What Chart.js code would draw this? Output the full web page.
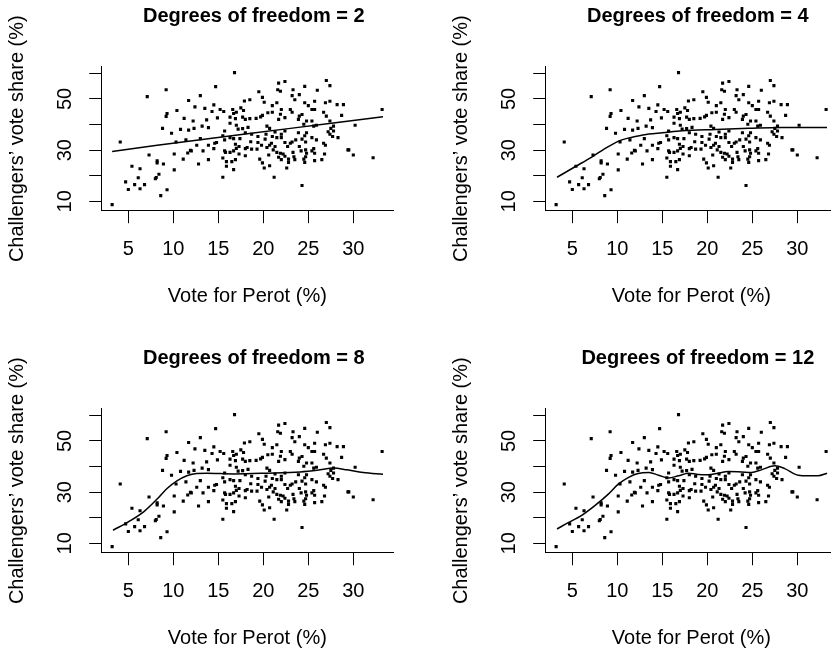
<!DOCTYPE html>
<html><head><meta charset="utf-8">
<script src="https://cdn.jsdelivr.net/npm/chart.js@4.4.1/dist/chart.umd.min.js"></script>
<style>
html,body{margin:0;padding:0;background:#fff;}
#wrap{position:relative;width:831px;height:654px;overflow:hidden;background:#fff;}
.panel{position:absolute;width:444px;height:342px;}
canvas{display:block;}
</style></head><body>
<div id="wrap">
 <div class="panel" style="left:0;top:0"><canvas id="c1" width="444" height="342"></canvas></div>
 <div class="panel" style="left:444px;top:0"><canvas id="c2" width="444" height="342"></canvas></div>
 <div class="panel" style="left:0;top:342px"><canvas id="c3" width="444" height="342"></canvas></div>
 <div class="panel" style="left:444px;top:342px"><canvas id="c4" width="444" height="342"></canvas></div>
</div>
<script>
// ---- data ----
const perotVote = [
 9.2,7.1,11.7,10.4,9.3,9.2,11.2,8.8,9.8,10.8,11.7,11.4,
 4.1,10.3,11.9,11.6,7.3,10.1,11.1,8.2,8.2,8.9,5.4,6.3,10.1,8.4,8.1,8.0,6.1,4.7,5.7,6.8,5.0,6.3,9.3,8.6,3.2,
 16.8,14.7,19.5,21.6,13.0,18.5,19.9,20.1,17.9,12.4,13.5,14.5,14.3,15.2,15.6,16.6,16.7,17.0,17.5,17.8,21.0,21.5,19.9,19.7,20.5,21.0,
 12.2,13.7,14.9,16.3,16.9,17.7,18.0,19.2,18.5,12.3,13.2,13.9,16.3,17.0,17.2,17.7,18.3,20.4,20.7,15.7,18.0,15.5,16.3,16.7,17.4,18.7,20.3,21.3,21.5,13.0,
 22.4,21.7,21.9,23.3,24.6,26.0,27.0,27.4,23.2,24.0,23.5,22.0,23.0,23.2,21.9,22.4,21.7,24.0,24.3,24.6,25.0,25.7,26.9,27.4,28.2,28.9,
 25.4,25.7,26.7,27.0,28.7,23.9,24.8,24.5,25.4,25.6,25.9,27.4,27.8,30.2,22.4,22.0,23.9,24.6,24.8,27.4,27.8,
 12.0,12.6,13.9,14.5,14.6,13.3,13.9,12.8,14.8,15.7,15.5,15.8,16.3,15.9,16.7,16.9,16.9,16.7,17.3,18.0,18.2,18.0,18.7,19.3,19.4,19.8,
 20.2,20.4,20.7,21.1,20.6,19.6,19.9,20.1,20.7,15.5,15.9,21.2,
 22.0,22.4,23.0,23.2,23.6,24.3,24.7,25.4,25.9,26.7,26.9,28.3,21.5,21.9,22.2,21.7,22.4,23.3,24.2,24.7,24.8,25.4,25.6,25.7,26.8,
 29.4,29.5,30.0,22.0,22.8,23.5,24.5,24.6,22.8,22.6,25.7,26.5,24.3,
 33.2,32.2,
 15.7,16.5,17.0,17.3,18.6,19.4,20.9,21.0,21.3,22.7,23.4,24.0,24.7,27.2,27.5,27.7
];
const challengerShare = [
 53.6,50.9,49.4,45.5,44.3,43.2,42.4,38.5,36.6,38.1,37.8,34.0,
 33.2,33.2,29.9,28.9,28.1,28.5,26.5,25.8,25.0,24.6,23.7,22.7,22.3,20.6,19.3,18.8,19.2,17.6,16.5,16.5,14.6,14.9,14.5,12.2,8.7,
 60.3,54.8,52.8,53.6,51.3,49.7,50.6,48.7,49.2,46.9,46.3,47.7,45.1,45.9,45.1,45.9,44.3,44.8,46.5,45.5,47.4,48.5,43.6,43.0,44.6,44.8,
 41.4,41.8,42.6,42.9,42.3,42.9,42.0,42.4,42.3,38.5,39.4,38.8,40.5,39.7,38.2,38.4,38.9,39.4,38.5,37.5,36.8,35.6,34.9,34.5,34.5,36.2,36.2,37.1,34.9,34.5,
 56.8,56.2,53.0,53.6,54.9,53.4,57.2,55.2,51.3,51.7,49.7,45.9,45.9,44.8,44.0,42.7,42.0,43.3,43.9,48.5,47.4,49.1,48.5,49.1,47.8,47.8,
 45.9,45.9,44.8,43.3,43.6,42.0,41.4,40.1,41.4,39.4,39.7,41.4,39.4,39.7,37.5,36.2,36.8,35.6,36.8,36.2,37.5,
 29.7,31.9,31.9,30.6,32.7,29.7,26.3,24.6,33.0,29.7,26.9,29.1,29.1,25.5,29.7,32.3,26.3,22.4,28.5,30.6,31.0,27.8,30.4,30.4,33.0,31.9,
 34.3,31.0,31.9,30.1,28.1,26.5,25.0,23.0,23.9,19.4,23.7,19.4,
 34.9,33.0,32.7,33.2,34.0,34.3,33.2,34.9,34.0,32.7,31.9,34.9,29.1,28.8,28.5,27.2,27.6,29.1,29.7,30.1,28.8,29.7,30.6,28.8,28.5,
 30.1,30.1,28.1,26.3,26.5,26.3,26.5,25.2,25.2,23.0,25.9,26.3,16.2,
 45.9,27.0,
 34.0,25.5,30.7,31.4,33.3,35.3,32.7,35.3,31.4,31.4,27.4,31.4,27.4,37.2,38.5,35.3
];

// smoothing-spline fits
const df2X  = [3.2, 8, 13, 18, 23, 28, 33.3];
const df2Y  = [29.5, 31.8, 34.1, 36.3, 38.5, 40.7, 43.0];
const df4X  = [3.3, 5.3, 7.2, 9.0, 10.5, 12.0, 13.5, 15.0, 17.2, 20.9, 24.6, 28.3, 33.3];
const df4Y  = [19.4, 23.5, 27.4, 31.4, 34.0, 35.3, 36.3, 36.8, 37.6, 38.1, 38.5, 38.8, 38.8];
const df8X  = [3.3, 5.0, 6.7, 8.2, 9.3, 10.4, 11.5, 12.6, 13.7, 16.7, 20.4, 24.1, 26.3, 27.8, 29.3, 31.1, 33.3];
const df8Y  = [15.1, 18.4, 22.3, 27.3, 31.4, 34.4, 36.4, 37.3, 37.4, 37.1, 37.4, 37.9, 38.7, 39.4, 38.7, 37.7, 37.0];
const df12X = [3.3, 4.6, 6.0, 7.5, 9.0, 10.1, 11.2, 12.3, 13.5, 14.6, 15.7, 16.8, 17.9, 19.0, 20.1, 21.2, 22.3, 23.8, 24.9, 26.0, 27.5, 28.6, 30.1, 31.2, 32.3, 33.3];
const df12Y = [15.6, 18.2, 20.8, 24.7, 29.2, 33.1, 35.7, 37.3, 37.7, 36.6, 35.5, 36.4, 37.4, 36.9, 36.8, 37.4, 38.1, 37.9, 37.7, 38.7, 40.3, 39.2, 36.6, 36.4, 36.4, 37.4];

const panelTitles = ["Degrees of freedom = 2", "Degrees of freedom = 4", "Degrees of freedom = 8", "Degrees of freedom = 12"];
const xTickValues = [5, 10, 15, 20, 25, 30];
const yTickValues = [10, 20, 30, 40, 50, 60];
const yLabelValues = [10, 30, 50];
const xAxisTitle = "Vote for Perot (%)";
const yAxisTitle = "Challengers\u2019 vote share (%)";

// ---- drawing ----
const FONT = '"Liberation Sans", Arial, Helvetica, sans-serif';
Chart.defaults.font.family = FONT;
Chart.defaults.color = '#000';

const panelTitle = {
  id: 'panelTitle',
  afterDraw(chart, args, opts) {
    const ctx = chart.ctx, a = chart.chartArea;
    ctx.save();
    ctx.font = 'bold 20px ' + FONT;
    ctx.fillStyle = '#000';
    ctx.textAlign = 'center';
    ctx.textBaseline = 'middle';
    ctx.fillText(opts.text, (a.left + a.right) / 2 + 6.5, 16.7);
    ctx.restore();
  }
};

const axisGrid = {drawOnChartArea: false, drawTicks: true, tickLength: 12.5, color: '#000', lineWidth: 1};
const axisBorder = {display: true, color: '#000', width: 1};

function makePanel(id, title, cx, cy, smooth) {
  const pts = perotVote.map((x, i) => ({x: x, y: challengerShare[i]}));
  const curve = cx.map((x, i) => ({x: x, y: cy[i]}));
  new Chart(document.getElementById(id), {
    type: 'scatter',
    data: {datasets: [
      {data: curve, showLine: true, pointRadius: 0, borderColor: '#000', borderWidth: 1.5,
       cubicInterpolationMode: smooth ? 'monotone' : 'default', tension: 0, fill: false},
      {data: pts, pointStyle: 'rect', pointRadius: 2.2, pointHoverRadius: 2.2,
       backgroundColor: '#000', pointBackgroundColor: '#000', pointBorderWidth: 0, borderWidth: 0, showLine: false}
    ]},
    options: {
      responsive: false, animation: false, devicePixelRatio: 1,
      layout: {padding: {left: 0, top: 66.7, right: 51, bottom: 31.3}},
      plugins: {legend: {display: false}, tooltip: {enabled: false}, title: {display: false},
                panelTitle: {text: title}},
      events: [],
      scales: {
        x: {
          type: 'linear', min: 2.04, max: 34.41, bounds: 'data',
          afterBuildTicks: ax => { ax.ticks = xTickValues.map(v => ({value: v})); },
          afterFit: s => { s.height = 100; },
          grid: axisGrid, border: axisBorder,
          ticks: {color: '#000', font: {size: 20, lineHeight: 1}, padding: 16, maxRotation: 0, autoSkip: false},
          title: {display: true, text: xAxisTitle, color: '#000', font: {size: 20, lineHeight: 1}, padding: {top: 0, bottom: 4}}
        },
        y: {
          type: 'linear', min: 6.33, max: 62.6, bounds: 'data',
          afterBuildTicks: ax => { ax.ticks = yTickValues.map(v => ({value: v})); },
          afterFit: s => { s.width = 101.7; },
          grid: axisGrid, border: axisBorder,
          ticks: {color: '#000', font: {size: 20, lineHeight: 1}, padding: 13, minRotation: 90, maxRotation: 90,
                  crossAlign: 'center', autoSkip: false,
                  callback: v => yLabelValues.includes(v) ? String(v) : ''},
          title: {display: true, text: yAxisTitle, color: '#000', font: {size: 20, lineHeight: 1}, padding: {top: 7, bottom: 0}}
        }
      }
    },
    plugins: [panelTitle]
  });
}

makePanel('c1', panelTitles[0], df2X, df2Y, false);
makePanel('c2', panelTitles[1], df4X, df4Y, true);
makePanel('c3', panelTitles[2], df8X, df8Y, true);
makePanel('c4', panelTitles[3], df12X, df12Y, true);
</script>
</body></html>
